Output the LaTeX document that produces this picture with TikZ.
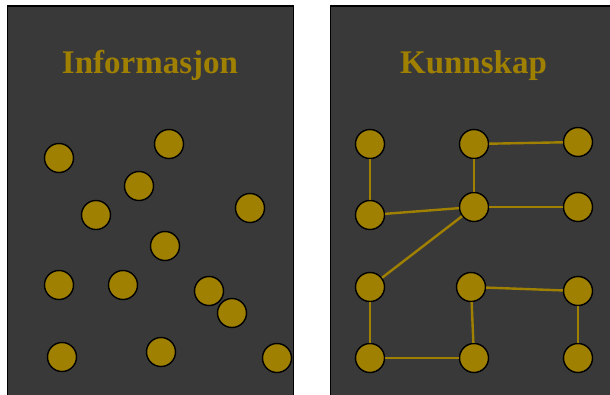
\documentclass[tikz,border=0pt]{standalone}
\usepackage{fontspec}
\setmainfont{Liberation Serif}
\definecolor{panelbg}{HTML}{3A3939}
\definecolor{gold}{HTML}{A08000}
\begin{document}
\begin{tikzpicture}[x=1pt,y=-1pt,
  panel/.style={fill=panelbg,draw=black,line width=1.5pt},
  dot/.style={circle,fill=gold,draw=black,line width=1.4pt,minimum size=29pt,inner sep=0pt},
  link/.style={draw=gold,line width=2.4pt},
  heading/.style={text=gold,font=\fontsize{33}{33}\selectfont\bfseries,anchor=base}]
\useasboundingbox (0,0) rectangle (610,394);
% panels
\path[panel] (7.5,400) -- (7.5,6) -- (293.5,6) -- (293.5,400);
\path[panel] (330.5,400) -- (330.5,6) -- (620,6) -- (620,400);
% titles
\node[heading] (t1) at (150,73) {Informasjon};
\node[heading] (t2) at (473.5,73) {Kunnskap};
% scattered dots
\foreach \n/\x/\y in {a1/59/158,a2/169/144,a3/139/186,a4/96/215,a5/250/208,a6/165/246,
  a7/59/285,a8/123/285,a9/209/291,a10/232/313,a11/62/357,a12/161/352,a13/277/358}
  \node[dot] (\n) at (\x,\y) {};
% connected dots
\foreach \n/\x/\y in {b1/370/144,b2/474/144,b3/578/142,b4/370/215,b5/474/207,b6/578/207,
  b7/370/287,b8/471/287,b9/578/291,b10/370/358,b11/474/358,b12/578/358}
  \node[dot] (\n) at (\x,\y) {};
% links between connected dots
\foreach \p/\q in {b1/b4,b4/b5,b2/b5,b2/b3,b5/b6,b5/b7,b7/b10,b10/b11,b11/b8,b8/b9,b9/b12}
  \path[link] (\p) -- (\q);
\end{tikzpicture}
\end{document}
